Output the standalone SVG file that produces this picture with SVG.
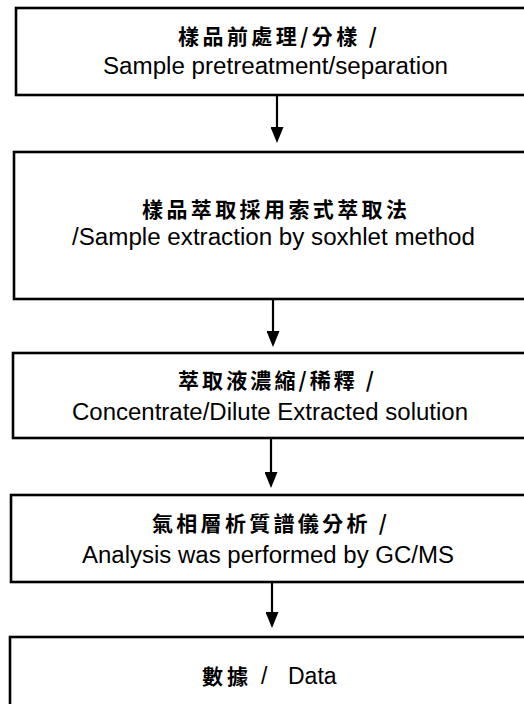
<svg xmlns="http://www.w3.org/2000/svg" width="524" height="704" viewBox="0 0 524 704">
<style>
.box{fill:#fff;stroke:#000;stroke-width:2.6}
.zh{font-family:"Noto Sans CJK TC","Noto Sans CJK SC",sans-serif;font-size:21px;font-weight:700;fill:#000}
.en{font-family:"Liberation Sans",Arial,sans-serif;font-size:23px;fill:#000}
.conn{stroke:#000;stroke-width:2.2;fill:none}
</style>
<defs>
<marker id="ah" markerUnits="userSpaceOnUse" markerWidth="16" markerHeight="13" refX="3" refY="6.5" orient="auto">
<path d="M0,0 L16,6.5 L0,13 z" fill="#000"/>
</marker>
</defs>
<rect width="524" height="704" fill="#fff"/>
<g id="node1">
<rect class="box" x="16" y="8" width="524" height="87"/>
<text class="zh" x="178" y="44" textLength="199" lengthAdjust="spacing">樣品前處理/分樣 /</text>
<text class="en" x="103" y="74" textLength="345" lengthAdjust="spacingAndGlyphs">Sample pretreatment/separation</text>
</g>
<g id="node2">
<rect class="box" x="14" y="152" width="526" height="147"/>
<text class="zh" x="142" y="217" textLength="265" lengthAdjust="spacing">樣品萃取採用索式萃取法</text>
<text class="en" x="72" y="245" textLength="403" lengthAdjust="spacingAndGlyphs">/Sample extraction by soxhlet method</text>
</g>
<g id="node3">
<rect class="box" x="13" y="353" width="527" height="85"/>
<text class="zh" x="178" y="388" textLength="196" lengthAdjust="spacing">萃取液濃縮/稀釋 /</text>
<text class="en" x="72" y="420" textLength="396" lengthAdjust="spacingAndGlyphs">Concentrate/Dilute Extracted solution</text>
</g>
<g id="node4">
<rect class="box" x="11" y="495" width="529" height="87"/>
<text class="zh" x="152" y="531" textLength="235" lengthAdjust="spacing">氣相層析質譜儀分析 /</text>
<text class="en" x="82" y="563" textLength="372" lengthAdjust="spacingAndGlyphs">Analysis was performed by GC/MS</text>
</g>
<g id="node5">
<rect class="box" x="10" y="637" width="530" height="90"/>
<text y="684"><tspan class="zh" x="202" textLength="46" lengthAdjust="spacing">數據</tspan> <tspan class="en" x="261">/</tspan> <tspan class="en" x="288">Data</tspan></text>
</g>
<g id="connectors">
<line class="conn" x1="277" y1="96" x2="277" y2="130" marker-end="url(#ah)"/>
<line class="conn" x1="273" y1="300" x2="273" y2="334" marker-end="url(#ah)"/>
<line class="conn" x1="271" y1="439" x2="271" y2="475" marker-end="url(#ah)"/>
<line class="conn" x1="272" y1="583" x2="272" y2="615" marker-end="url(#ah)"/>
</g>
</svg>
